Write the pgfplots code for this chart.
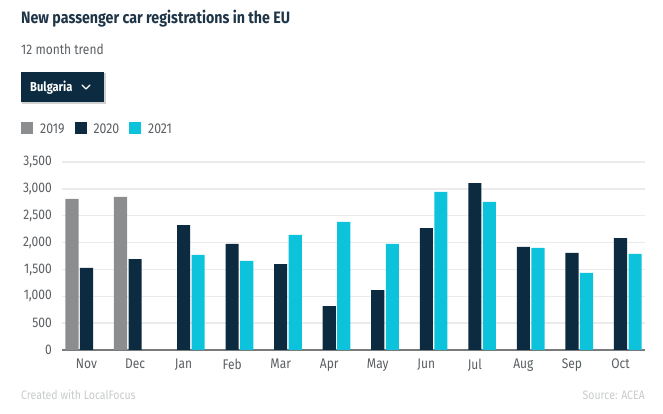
\documentclass[border=0pt]{standalone}
\usepackage{fontspec}
\setmainfont{Fira Sans}[FakeStretch=0.86]
\usepackage{pgfplots}
\pgfplotsset{compat=1.18}

\definecolor{cGray}{HTML}{8C8D8E}
\definecolor{cNavy}{HTML}{0C2B40}
\definecolor{cCyan}{HTML}{0DC3DC}
\definecolor{cText}{HTML}{5A5F63}
\definecolor{cTitle}{HTML}{1E3447}
\definecolor{cGrid}{HTML}{EBEBEB}
\definecolor{cFoot}{HTML}{C8CACC}

\begin{document}
\begin{tikzpicture}
% page frame 663 x 414 px
\path[use as bounding box] (0bp,0bp) rectangle (663bp,414bp);

\node[anchor=base west, inner sep=0pt, text=cTitle, font=\fontsize{16.6}{20}\selectfont\bfseries]
  at (21bp,390bp) {New passenger car registrations in the EU};
\node[anchor=base west, inner sep=0pt, text=cText, font=\fontsize{14}{16}\selectfont]
  at (21bp,359bp) {12 month trend};

% country selector
\fill[black!18] (22bp,310bp) rectangle (106bp,341bp);
\fill[cNavy] (21bp,312bp) rectangle (104bp,342bp);
\node[anchor=base west, inner sep=0pt, text=white, font=\fontsize{13}{15}\selectfont\bfseries]
  at (30bp,322bp) {Bulgaria};
\draw[white, line width=1.4bp, line cap=round, line join=round]
  (82bp,329bp) -- (86bp,325bp) -- (90bp,329bp);

\begin{axis}[
    at={(62bp,64bp)}, anchor=south west,
    scale only axis,
    width=583bp, height=188bp,
    xmin=-0.505, xmax=11.505,
    ymin=0, ymax=3500,
    ybar, bar width=0.27,
    xtick={0,...,11},
    xticklabels={Nov,Dec,Jan,Feb,Mar,Apr,May,Jun,Jul,Aug,Sep,Oct},
    ytick={0,500,...,3500},
    /pgf/number format/assume math mode=true,
    /pgf/number format/1000 sep={,},
    major tick length=0pt,
    tick style={draw=none},
    axis x line=bottom, axis y line=left,
    axis line style={-},
    x axis line style={draw=black!52, line width=1.4bp},
    y axis line style={draw=none},
    ymajorgrids,
    grid style={draw=cGrid, line width=1.3bp},
    ticklabel style={font=\fontsize{14}{16}\selectfont, text=cText},
    yticklabel style={anchor=east, inner sep=0pt, xshift=-10bp},
    xticklabel style={anchor=north, inner sep=0pt, yshift=-9bp},
    legend columns=3,
    legend style={at={(-0.0703,1.213)}, anchor=north west, draw=none, fill=none,
      inner sep=0pt, font=\fontsize{14.3}{16}\selectfont, text=cText,
      /tikz/every even column/.append style={column sep=10bp},
      nodes={inner sep=0pt, text depth=0pt}},
    legend cell align=left,
    legend image code/.code={\fill[#1] (0bp,-5bp) rectangle (12bp,7bp);},
  ]
  \addplot[fill=cGray, draw=none, bar shift=-0.3] coordinates {
    (0,2812) (1,2849)
  };
  \addlegendentry{\hspace{7bp}2019}
  \addplot[fill=cNavy, draw=none, bar shift=0] coordinates {
    (0,1527) (1,1694) (2,2327) (3,1974) (4,1601) (5,819)
    (6,1117) (7,2271) (8,3109) (9,1918) (10,1806) (11,2085)
  };
  \addlegendentry{\hspace{7bp}2020}
  \addplot[fill=cCyan, draw=none, bar shift=0.3] coordinates {
    (2,1769) (3,1657) (4,2141) (5,2383)
    (6,1974) (7,2942) (8,2756) (9,1899) (10,1434) (11,1788)
  };
  \addlegendentry{\hspace{7bp}2021}
\end{axis}

\node[anchor=base west, inner sep=0pt, text=cFoot, font=\fontsize{12.3}{14}\selectfont]
  at (21bp,15bp) {Created with LocalFocus};
\node[anchor=base east, inner sep=0pt, text=cFoot, font=\fontsize{12.3}{14}\selectfont]
  at (645bp,15bp) {Source: ACEA};
\end{tikzpicture}
\end{document}
